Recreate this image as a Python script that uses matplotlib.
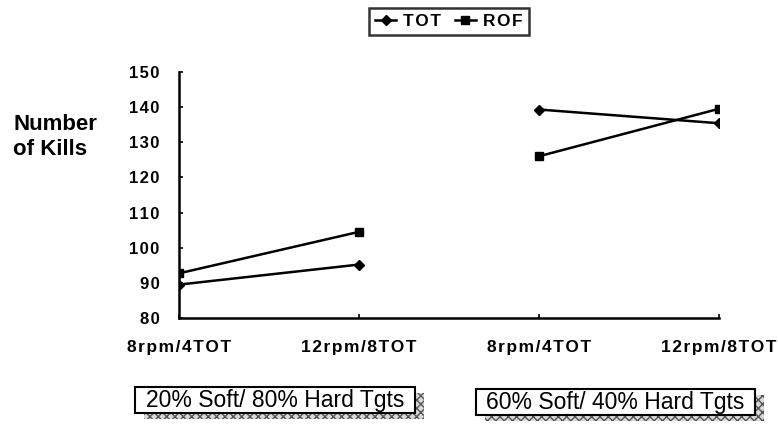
import matplotlib.pyplot as plt
from matplotlib.patches import Rectangle

plt.rcParams['font.family'] = ['Liberation Sans', 'DejaVu Sans']

# data
categories = ['8rpm/4TOT', '12rpm/8TOT', '8rpm/4TOT', '12rpm/8TOT']
groups = ['20% Soft/ 80% Hard Tgts', '60% Soft/ 40% Hard Tgts']
tot_g1 = [89.5, 95.2]
rof_g1 = [92.7, 104.5]
tot_g2 = [139.3, 135.4]
rof_g2 = [126.0, 139.5]


def spaced(s):
    # the scanned chart has wide letter spacing
    return '\u200a'.join(s)


fig = plt.figure(figsize=(7.78, 4.28), dpi=100)
ax = fig.add_axes([0.230, 0.257, 0.694, 0.575])

x1 = [0, 1]
x2 = [2, 3]
ax.plot(x1, tot_g1, color='black', lw=1.8, marker='D', ms=5, label=spaced('TOT'))
ax.plot(x1, rof_g1, color='black', lw=1.8, marker='s', ms=6, label=spaced('ROF'))
ax.plot(x2, tot_g2, color='black', lw=1.8, marker='D', ms=5)
ax.plot(x2, rof_g2, color='black', lw=1.8, marker='s', ms=6)

ax.set_xlim(0, 3)
ax.set_ylim(80, 150)
yticks = list(range(80, 151, 10))
ax.set_yticks(yticks)
ax.set_yticklabels([spaced(str(v)) for v in yticks], fontsize=12, fontweight='bold')
ax.set_xticks(range(len(categories)))
ax.set_xticklabels([spaced(c) for c in categories], fontsize=12.5, fontweight='bold')
ax.tick_params(axis='y', direction='in', length=3, width=1.2, pad=14)
ax.tick_params(axis='x', direction='in', length=3, width=1.2, pad=16)
for side in ['top', 'right']:
    ax.spines[side].set_visible(False)
for side in ['left', 'bottom']:
    ax.spines[side].set_linewidth(1.8)

fig.text(0.017, 0.68, 'Number\nof Kills', fontsize=16, fontweight='bold',
         ha='left', va='center', linespacing=1.2)

leg = fig.legend(loc='center', bbox_to_anchor=(0.577, 0.95), ncol=2,
                 frameon=True, fancybox=False, handlelength=1.2,
                 handletextpad=0.4, columnspacing=0.8, borderpad=0.35,
                 prop={'weight': 'bold', 'size': 12.5})
leg.get_frame().set_edgecolor('black')
leg.get_frame().set_linewidth(1.8)

# group label boxes with hatched shadow
W, H = 778, 428
boxes = [(135, 387, 415, 413), (476, 389, 755, 415)]
for (x0, y0, x1b, y1b), text in zip(boxes, groups):
    fx, fw = x0 / W, (x1b - x0) / W
    fy, fh = 1 - y1b / H, (y1b - y0) / H
    shadow = Rectangle((fx + 9 / W, fy - 6 / H), fw, fh, transform=fig.transFigure,
                       facecolor='#d8d8d8', edgecolor='#555555', hatch='xxxx',
                       lw=0.0, zorder=1)
    fig.patches.append(shadow)
    box = Rectangle((fx, fy), fw, fh, transform=fig.transFigure,
                    facecolor='white', edgecolor='black', lw=1.5, zorder=2)
    fig.patches.append(box)
    fig.text(fx + fw / 2, fy + fh / 2, text, fontsize=16.5, ha='center',
             va='center', zorder=3)

fig.savefig('out.png', dpi=100)
